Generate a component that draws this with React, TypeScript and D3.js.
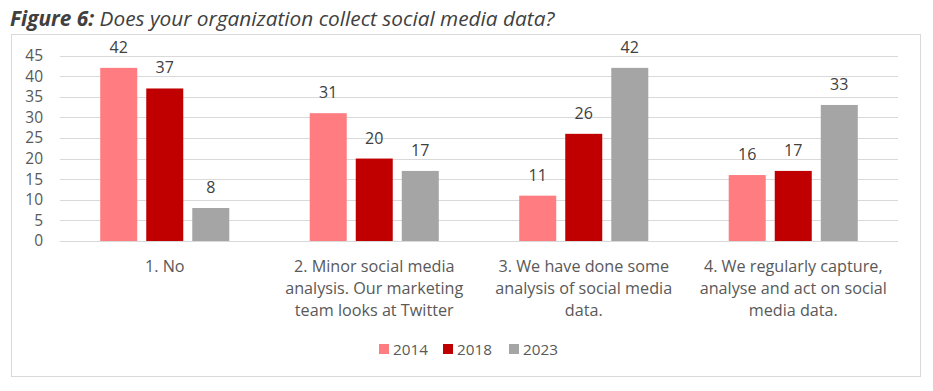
import * as d3 from "d3";

const categories = [
  ["1. No"],
  ["2. Minor social media", "analysis. Our marketing", "team looks at Twitter"],
  ["3. We have done some", "analysis of social media", "data."],
  ["4. We regularly capture,", "analyse and act on social", "media data."],
];
const seriesNames = ["2014", "2018", "2023"];
const values2014 = [42, 31, 11, 16];
const values2018 = [37, 20, 26, 17];
const values2023 = [8, 17, 42, 33];
const yTicks = [0, 5, 10, 15, 20, 25, 30, 35, 40, 45];
const colors = ["#FF7C80", "#C00000", "#A5A5A5"];

const W = 933;
const H = 391;
const FONT = "'Open Sans', Lato, sans-serif";

const App = () => {
  const series = [values2014, values2018, values2023];
  const plot = { left: 60, right: 898, top: 55.5, bottom: 241 };

  const x0 = d3
    .scaleBand<number>()
    .domain(categories.map((_, i) => i))
    .range([plot.left, plot.right])
    .paddingInner(0.384)
    .paddingOuter(0.192);
  const x1 = d3
    .scaleBand<number>()
    .domain(seriesNames.map((_, i) => i))
    .range([0, x0.bandwidth()])
    .paddingInner(0.196);
  const y = d3.scaleLinear().domain([0, 45]).range([plot.bottom, plot.top]);

  const legendX = [379, 443, 509];

  return (
    <svg
      width={W}
      height={H}
      style={{ position: "absolute", left: 0, top: 0, fontFamily: FONT }}
    >
      <rect width={W} height={H} fill="white" />
      <text x={10} y={26} fontSize={20.8} fill="#404040" fontStyle="italic">
        <tspan fontWeight="bold">Figure 6:</tspan> Does your organization collect social media data?
      </text>
      <rect x={11.5} y={34.5} width={909} height={342} fill="white" stroke="#D9D9D9" />

      {yTicks.map((t) => (
        <g key={t}>
          <line
            x1={plot.left}
            x2={plot.right}
            y1={Math.round(y(t)) + 0.5}
            y2={Math.round(y(t)) + 0.5}
            stroke="#D9D9D9"
          />
          <text
            x={43}
            y={y(t)}
            dy="0.35em"
            textAnchor="end"
            fontSize={15.5}
            fill="#595959"
          >
            {t}
          </text>
        </g>
      ))}

      {categories.map((_, ci) => (
        <g key={ci} transform={`translate(${x0(ci)},0)`}>
          {series.map((vals, si) => (
            <g key={si}>
              <rect
                x={x1(si)}
                y={y(vals[ci])}
                width={x1.bandwidth()}
                height={plot.bottom - y(vals[ci])}
                fill={colors[si]}
              />
              <text
                x={(x1(si) ?? 0) + x1.bandwidth() / 2}
                y={y(vals[ci]) - 15}
                textAnchor="middle"
                fontSize={16}
                fill="#404040"
              >
                {vals[ci]}
              </text>
            </g>
          ))}
        </g>
      ))}

      {categories.map((lines, ci) => (
        <text
          key={ci}
          x={(x0(ci) ?? 0) + x0.bandwidth() / 2}
          textAnchor="middle"
          fontSize={16.2}
          fill="#595959"
        >
          {lines.map((l, li) => (
            <tspan key={li} x={(x0(ci) ?? 0) + x0.bandwidth() / 2} y={272 + li * 22}>
              {l}
            </tspan>
          ))}
        </text>
      ))}

      {seriesNames.map((name, si) => (
        <g key={name}>
          <rect x={legendX[si]} y={344} width={10} height={10} fill={colors[si]} />
          <text x={legendX[si] + 14} y={355} fontSize={15.3} fill="#595959">
            {name}
          </text>
        </g>
      ))}
    </svg>
  );
};

export default App;
